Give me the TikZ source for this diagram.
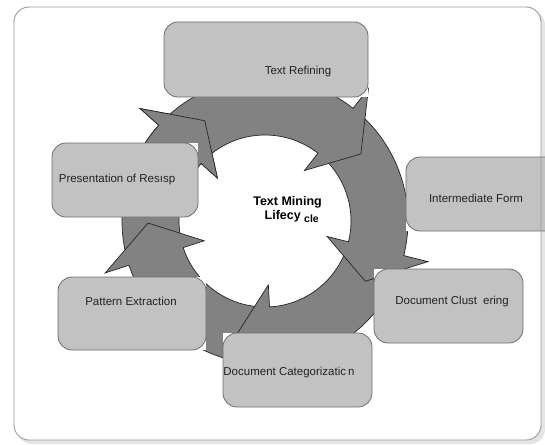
\documentclass[tikz,border=0pt]{standalone}
\usepackage{fontspec}
\setmainfont{Liberation Sans}
\definecolor{ringgray}{HTML}{828282}
\definecolor{boxgray}{HTML}{C2C2C2}
\definecolor{boxline}{HTML}{6E6E6E}
\definecolor{ringline}{HTML}{262626}
\definecolor{framecol}{HTML}{9A9A9A}
\definecolor{shadowcol}{HTML}{E4E4E4}
\definecolor{txt}{HTML}{222222}
\newcommand{\cycarrow}[2]{%
  \draw[arrowpiece] (#1:86) -- (#1:143) arc[start angle=#1, end angle=#2, radius=143]
    -- (#2:168) -- ({#2+17}:117) -- (#2:64) -- (#2:86)
    arc[start angle=#2, end angle=#1, radius=86] -- cycle;}
\begin{document}
\begin{tikzpicture}[x=1pt,y=-1pt,
  stage/.style={draw=boxline, fill=boxgray, rounded corners=14pt, line width=0.8pt, inner sep=0pt},
  lbl/.style={font=\fontsize{11.5}{13}\selectfont, text=txt, inner sep=0pt},
  hub/.style={font=\fontsize{12.5}{14}\selectfont\bfseries, text=black, inner sep=0pt},
  arrowpiece/.style={fill=ringgray, draw=ringline, line width=0.7pt, line join=miter}]
\useasboundingbox (0,0) rectangle (545,444);
\clip (0,0) rectangle (545,444);
% frame with shadow
\fill[shadowcol, rounded corners=15pt] (17,10) rectangle (545,444);
\fill[white, rounded corners=15pt] (14,7) rectangle (541,440);
% circular arrows
\begin{scope}[shift={(265,221)}]
  \cycarrow{167}{222}
  \cycarrow{92}{162}
  \cycarrow{19}{87}
  \cycarrow{-47}{14}
  \cycarrow{-133}{-52}
  \begin{scope}
    \clip (0,0) -- (200:300) -- (232:320) -- (265:300) -- cycle;
    \cycarrow{167}{222}
  \end{scope}
\end{scope}
% white backgrounds behind the boxes
\fill[white] (164,22) rectangle (368,97);
\fill[white] (52,143) rectangle (198,217);
\fill[white] (406,157) rectangle (560,231);
\fill[white] (374,269) rectangle (523,343);
\fill[white] (223,333) rectangle (372,407);
\fill[white] (58,277) rectangle (206,350);
% boxes
\node[stage, minimum width=204pt, minimum height=75pt] (refine) at (266,59.5) {};
\node[stage, minimum width=146pt, minimum height=74pt] (present) at (125,180) {};
\node[stage, minimum width=154pt, minimum height=74pt] (inter) at (483,194) {};
\node[stage, minimum width=149pt, minimum height=74pt] (cluster) at (448.5,306) {};
\node[stage, minimum width=149pt, minimum height=74pt] (categ) at (297.5,370) {};
\node[stage, minimum width=148pt, minimum height=73pt] (pattern) at (132,313.5) {};
% labels
\node[lbl] (trefine) at (298,72) {Text Refining};
\node[lbl] (tpresent) at (117,180) {Presentation of Resısp};
\node[lbl] (tinter) at (476,198) {Intermediate Form};
\node[lbl] (tcluster) at (452,302) {Document Clust\hspace{6pt}ering};
\node[lbl] (tcateg) at (289,373) {Document Categorizatic\hspace{2pt}n};
\node[lbl] (tpattern) at (131,301) {Pattern Extraction};
\node[hub, anchor=east] (hub1) at (322,202) {Text Mining};
\node[hub, anchor=east] (hub2) at (301,216) {Lifecy};
\node[font=\fontsize{10.5}{12}\selectfont\bfseries, inner sep=0pt, anchor=west] (hub3) at (304,219) {cle};
% frame outline
\draw[framecol, rounded corners=15pt, line width=0.9pt] (14,7) rectangle (541,440);
\end{tikzpicture}
\end{document}
